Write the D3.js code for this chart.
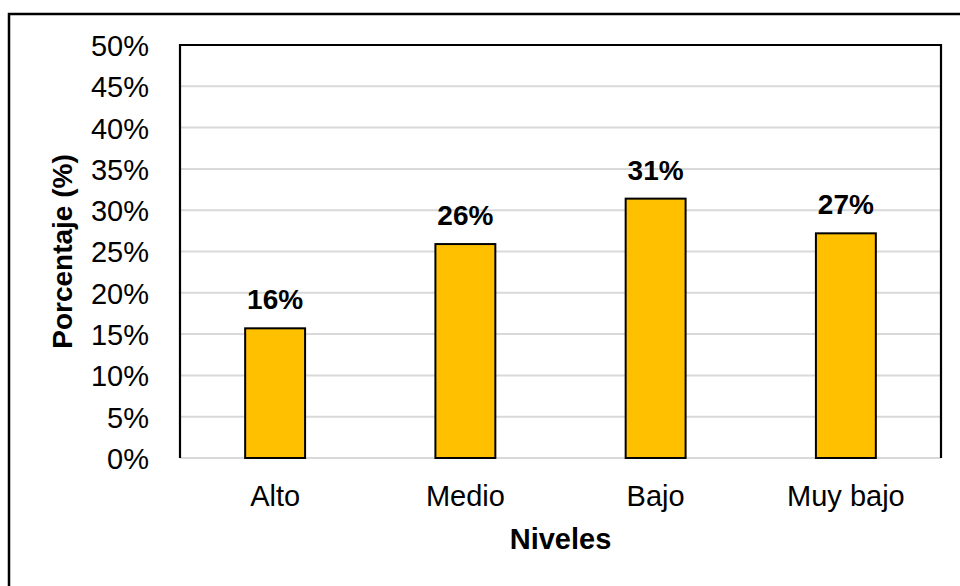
<!DOCTYPE html>
<html>
<head>
<meta charset="utf-8">
<script src="https://cdn.jsdelivr.net/npm/d3@7"></script>
<style>
  body { margin: 0; background: #fff; }
  svg { display: block; font-family: Arial, "Liberation Sans", sans-serif; }
</style>
</head>
<body>
<svg></svg>
<script>
const categories = ["Alto", "Medio", "Bajo", "Muy bajo"];
const values = [15.7, 25.9, 31.4, 27.2];
const yTicks = [0, 5, 10, 15, 20, 25, 30, 35, 40, 45, 50];

const W = 960, H = 586;
const margin = {top: 45, right: 19, bottom: 128, left: 180};
const width = W - margin.left - margin.right;
const height = H - margin.top - margin.bottom;

const svg = d3.select("svg")
    .attr("width", W)
    .attr("height", H);

// outer frame (runs off the right and bottom edge)
svg.append("rect")
    .attr("x", 9).attr("y", 14)
    .attr("width", W).attr("height", H)
    .attr("fill", "none")
    .attr("stroke", "#000")
    .attr("stroke-width", 2.5);

const g = svg.append("g")
    .attr("transform", "translate(" + margin.left + "," + margin.top + ")");

const x = d3.scaleBand()
    .domain(categories)
    .range([0, width]);
const y = d3.scaleLinear()
    .domain([0, 50])
    .range([height, 0]);

// gridlines
g.selectAll(".grid")
    .data(yTicks)
  .enter().append("line")
    .attr("x1", 0).attr("x2", width)
    .attr("y1", d => y(d)).attr("y2", d => y(d))
    .attr("stroke", "#d9d9d9")
    .attr("stroke-width", 2);

// y tick labels
const yAxis = g.append("g")
    .call(d3.axisLeft(y).tickValues(yTicks).tickFormat(d => d + "%").tickSize(0).tickPadding(31));
yAxis.select(".domain").remove();
yAxis.selectAll("text")
    .attr("font-size", 29)
    .attr("font-family", "Arial, 'Liberation Sans', sans-serif")
    .attr("fill", "#000")
    .attr("dy", "0.36em");

// x tick labels
const xAxis = g.append("g")
    .attr("transform", "translate(0," + height + ")")
    .call(d3.axisBottom(x).tickSize(0).tickPadding(27));
xAxis.select(".domain").remove();
xAxis.selectAll("text")
    .attr("font-size", 29)
    .attr("font-family", "Arial, 'Liberation Sans', sans-serif")
    .attr("fill", "#000");

// bars
const barW = x.bandwidth() * 0.315;
g.selectAll(".bar")
    .data(values)
  .enter().append("rect")
    .attr("x", (d, i) => x(categories[i]) + (x.bandwidth() - barW) / 2)
    .attr("y", d => y(d))
    .attr("width", barW)
    .attr("height", d => height - y(d))
    .attr("fill", "#FFC000")
    .attr("stroke", "#000")
    .attr("stroke-width", 2);

// value labels
g.selectAll(".val")
    .data(values)
  .enter().append("text")
    .attr("x", (d, i) => x(categories[i]) + x.bandwidth() / 2)
    .attr("y", d => y(d) - 19)
    .attr("text-anchor", "middle")
    .attr("font-size", 28)
    .attr("font-weight", "bold")
    .text(d => Math.round(d) + "%");

// plot frame: left, top, right in black
g.append("path")
    .attr("d", "M0," + height + "V0H" + width + "V" + height)
    .attr("fill", "none")
    .attr("stroke", "#000")
    .attr("stroke-width", 2.2);

// axis titles
svg.append("text")
    .attr("transform", "translate(72," + (margin.top + height / 2) + ") rotate(-90)")
    .attr("text-anchor", "middle")
    .attr("font-size", 28)
    .attr("font-weight", "bold")
    .text("Porcentaje (%)");

svg.append("text")
    .attr("x", margin.left + width / 2)
    .attr("y", 549)
    .attr("text-anchor", "middle")
    .attr("font-size", 29)
    .attr("font-weight", "bold")
    .text("Niveles");
</script>
</body>
</html>
